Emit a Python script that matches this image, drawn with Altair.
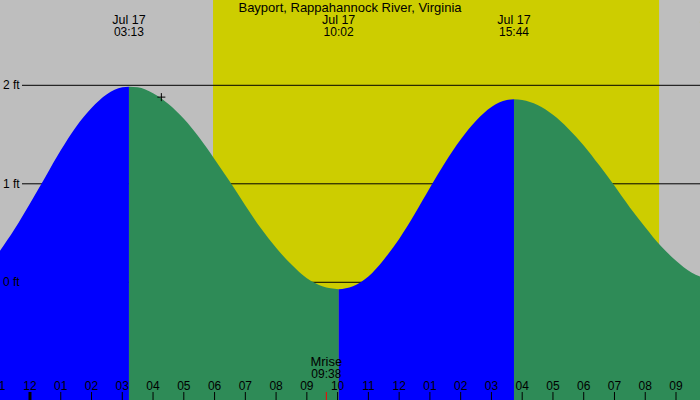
import altair as alt
import pandas as pd

TITLE = "Bayport, Rappahannock River, Virginia"

# Tide curve: hours after midnight (Jul 17) and height in feet
rise1_t = [-0.975, -0.5, 0, 0.5, 1, 1.5, 2, 2.5, 3, 3.217]
rise1_h = [0.32, 0.54, 0.80, 1.07, 1.34, 1.58, 1.77, 1.91, 1.98, 1.985]
fall1_t = [3.217, 3.5, 4, 4.5, 5, 5.5, 6, 6.5, 7, 7.5, 8, 8.5, 9, 9.5, 10.033]
fall1_h = [1.985, 1.98, 1.92, 1.81, 1.66, 1.47, 1.25, 1.02, 0.78, 0.55, 0.35, 0.18, 0.04, -0.04, -0.071]
rise2_t = [10.033, 10.5, 11, 11.5, 12, 12.5, 13, 13.5, 14, 14.5, 15, 15.5, 15.733]
rise2_h = [-0.071, -0.04, 0.06, 0.23, 0.44, 0.69, 0.96, 1.22, 1.45, 1.64, 1.78, 1.85, 1.858]
fall2_t = [15.733, 16, 16.5, 17, 17.5, 18, 18.5, 19, 19.5, 20, 20.5, 21, 21.5, 21.78]
fall2_h = [1.858, 1.85, 1.80, 1.70, 1.56, 1.39, 1.19, 0.98, 0.76, 0.56, 0.37, 0.22, 0.10, 0.06]

# Extremes labelled at the top
ext_t = [3.217, 10.033, 15.733, 22.32]
ext_date = ["Jul 17", "Jul 17", "Jul 17", "Jul 17"]
ext_time = ["03:13", "10:02", "15:44", "22:19"]

# Daylight
sunrise_t = [5.95]
sunset_t = [20.45]

# Height gridlines
levels = [2, 1, 0]
level_labels = ["2 ft", "1 ft", "0 ft"]

# Hour ticks
hours = list(range(-1, 22))
hour_labels = ["11", "12", "01", "02", "03", "04", "05", "06", "07", "08", "09", "10",
               "11", "12", "01", "02", "03", "04", "05", "06", "07", "08", "09"]

# Moonrise
moon_t = [9.633]
moon_name = ["Mrise"]
moon_time = ["09:38"]

# Current-time marker
mark_t = [4.27]
mark_h = [1.88]

X_MIN, X_MAX = -0.975, 21.78
Y_MIN, Y_MAX = -1.195, 2.866
FONT = "Liberation Sans"

xs = alt.Scale(domain=[X_MIN, X_MAX], nice=False, zero=False)
ys = alt.Scale(domain=[Y_MIN, Y_MAX], nice=False, zero=False)


def X(f):
    return alt.X(f, type="quantitative", scale=xs, axis=None)


def Y(f):
    return alt.Y(f, type="quantitative", scale=ys, axis=None)


segs = []
for i, (ts, hs, kind) in enumerate([(rise1_t, rise1_h, "rising"), (fall1_t, fall1_h, "falling"),
                                     (rise2_t, rise2_h, "rising"), (fall2_t, fall2_h, "falling")]):
    for t, h in zip(ts, hs):
        segs.append({"t": t, "h": h, "seg": i, "kind": kind})
tide = pd.DataFrame(segs)

day = alt.Chart(pd.DataFrame({"rise": sunrise_t, "set": sunset_t})).mark_rect(color="#CDCD00").encode(
    x=X("rise"), x2="set", y=alt.value(0), y2=alt.value(400))

grid = alt.Chart(pd.DataFrame({"level": levels, "label": level_labels})).mark_rule(
    color="black", strokeWidth=1).encode(y=Y("level"), x=alt.value(22), x2=alt.value(700))

area = alt.Chart(tide).mark_area(interpolate="monotone").encode(
    x=X("t"), y=Y("h"), y2=alt.datum(Y_MIN),
    color=alt.Color("kind:N", scale=alt.Scale(domain=["rising", "falling"], range=["#0000FF", "#2E8B57"]),
                    legend=None),
    detail="seg:N")

level_text = alt.Chart(pd.DataFrame({"level": levels, "label": level_labels})).mark_text(
    align="left", baseline="middle", font=FONT, fontSize=12, color="black").encode(
    y=Y("level"), x=alt.value(3), text="label:N")

ext_df = pd.DataFrame({"t": ext_t, "date": ext_date, "time": ext_time})
ext_date_text = alt.Chart(ext_df).mark_text(align="center", baseline="alphabetic", font=FONT,
                                            fontSize=12.5, color="black").encode(
    x=X("t"), y=alt.value(24), text="date:N")
ext_time_text = alt.Chart(ext_df).mark_text(align="center", baseline="alphabetic", font=FONT,
                                            fontSize=12, color="black").encode(
    x=X("t"), y=alt.value(36), text="time:N")

title = alt.Chart(pd.DataFrame({"title": [TITLE]})).mark_text(
    align="center", baseline="alphabetic", font=FONT, fontSize=13, color="black").encode(
    x=alt.value(350), y=alt.value(12), text="title:N")

hour_df = pd.DataFrame({"hour": hours, "label": hour_labels,
                        "w": [3 if h == 0 else 1 for h in hours]})
ticks = alt.Chart(hour_df).mark_rule(color="black").encode(
    x=X("hour"), y=alt.value(392), y2=alt.value(400),
    strokeWidth=alt.StrokeWidth("w:Q", scale=None, legend=None))
tick_text = alt.Chart(hour_df).mark_text(align="center", baseline="alphabetic", font=FONT,
                                         fontSize=12, color="black").encode(
    x=X("hour"), y=alt.value(390), text="label:N")

moon_df = pd.DataFrame({"t": moon_t, "name": moon_name, "time": moon_time})
moon_tick = alt.Chart(moon_df).mark_rule(color="#FF0000", strokeWidth=1).encode(
    x=X("t"), y=alt.value(392), y2=alt.value(400))
moon_name_text = alt.Chart(moon_df).mark_text(align="center", baseline="alphabetic", font=FONT,
                                              fontSize=13, color="black").encode(
    x=X("t"), y=alt.value(366), text="name:N")
moon_time_text = alt.Chart(moon_df).mark_text(align="center", baseline="alphabetic", font=FONT,
                                              fontSize=12, color="black").encode(
    x=X("t"), y=alt.value(378), text="time:N")

marker = alt.Chart(pd.DataFrame({"t": mark_t, "h": mark_h})).mark_point(
    shape="M-1,0L1,0M0,-1L0,1", size=64, filled=False, stroke="black", strokeWidth=1, opacity=1).encode(
    x=X("t"), y=Y("h"))

chart = alt.layer(
    day, grid, area, level_text, ext_date_text, ext_time_text, title,
    ticks, tick_text, moon_tick, moon_name_text, moon_time_text, marker
).properties(
    width=700, height=400, background="#BEBEBE", padding=0,
    autosize=alt.AutoSizeParams(type="none")
).configure_view(stroke=None)

chart.save("out.html", embed_options={"renderer": "svg", "actions": False})
